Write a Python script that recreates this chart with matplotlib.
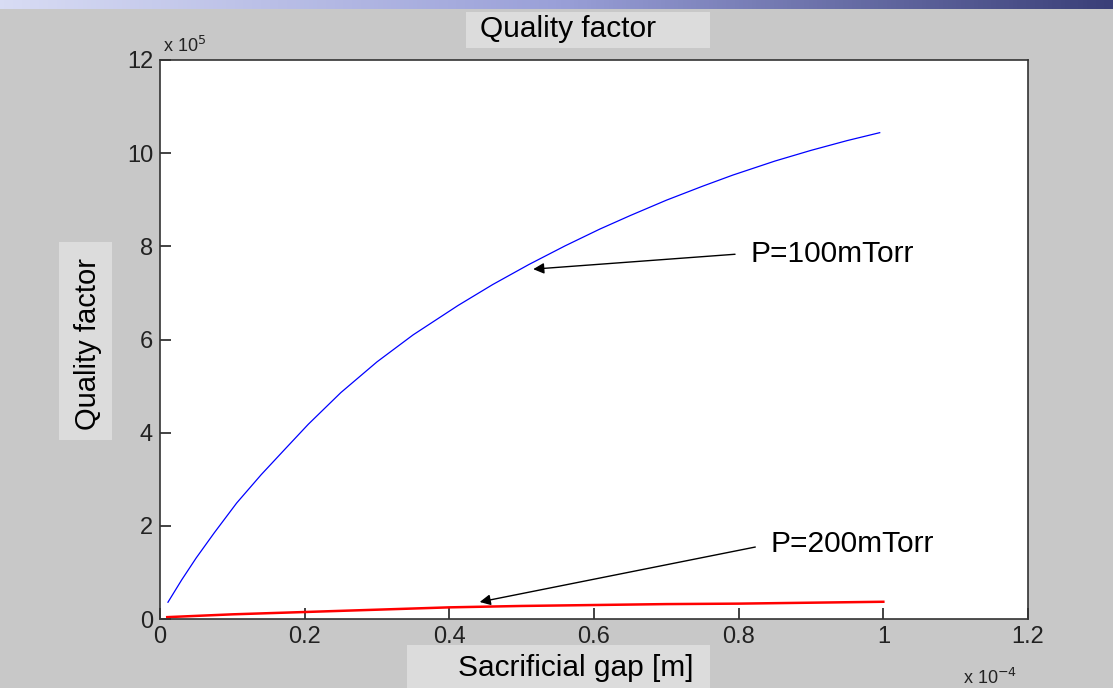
import numpy as np
import matplotlib.pyplot as plt
from matplotlib.ticker import FuncFormatter
from matplotlib.colors import LinearSegmentedColormap

# sacrificial gap [m] and quality factor
gap = np.array([0.011, 0.03, 0.05, 0.075, 0.106, 0.14, 0.173, 0.205, 0.25, 0.3,
                0.35, 0.412, 0.46, 0.51, 0.56, 0.608, 0.65, 0.7, 0.75, 0.792,
                0.85, 0.9, 0.95, 0.995]) * 1e-4
q_100 = np.array([0.36, 0.84, 1.31, 1.85, 2.49, 3.10, 3.65, 4.18, 4.86, 5.52,
                  6.10, 6.73, 7.18, 7.61, 8.01, 8.37, 8.66, 8.99, 9.29, 9.53,
                  9.83, 10.06, 10.27, 10.44]) * 1e5
gap_red = np.array([0.01, 0.1, 0.2, 0.3, 0.4, 0.5, 0.6, 0.7, 0.8, 0.9, 1.0]) * 1e-4
q_200 = np.array([0.04, 0.1, 0.15, 0.2, 0.25, 0.28, 0.3, 0.32, 0.33, 0.35, 0.37]) * 1e5

bg = '#c8c8c8'
plt.rcParams['font.family'] = ['Liberation Sans', 'DejaVu Sans']
fig = plt.figure(figsize=(11.13, 6.88), dpi=100, facecolor=bg)

# gradient strip along the top edge
strip = fig.add_axes([0, 1 - 9 / 688, 1, 9 / 688])
cmap = LinearSegmentedColormap.from_list('strip', ['#d8dcf4', '#9aa0d8', '#3a3f78'])
strip.imshow(np.linspace(0, 1, 256).reshape(1, -1), aspect='auto', cmap=cmap)
strip.axis('off')

ax = fig.add_axes([160 / 1113, 1 - 619 / 688, 868 / 1113, 559 / 688])
ax.set_facecolor('white')
ax.plot(gap, q_100, color='blue', lw=0.9)
ax.plot(gap_red, q_200, color='red', lw=1.8)

ax.set_xlim(0, 1.2e-4)
ax.set_ylim(0, 12e5)
ax.set_xticks(np.arange(0, 1.21e-4, 0.2e-4))
ax.set_yticks(np.arange(0, 12.1e5, 2e5))
ax.xaxis.set_major_formatter(FuncFormatter(lambda v, p: f'{v * 1e4:g}'))
ax.yaxis.set_major_formatter(FuncFormatter(lambda v, p: f'{v / 1e5:g}'))
ax.tick_params(direction='in', length=8, width=1.2, labelsize=17, colors='#222222', pad=5)
for s in ax.spines.values():
    s.set_color('#333333')
    s.set_linewidth(1.2)

# offset labels
fig.text(163 / 1113, 1 - 52 / 688, r'x 10$^5$', fontsize=13, color='#222222')
fig.text(963 / 1113, 1 - 684 / 688, r'x 10$^{-4}$', fontsize=13, color='#222222')

# title and axis labels in light boxes
for (x0, y0, w, h) in [(466, 12, 244, 36), (407, 645, 303, 43), (59, 242, 53, 198)]:
    fig.patches.append(plt.Rectangle((x0 / 1113, 1 - (y0 + h) / 688), w / 1113, h / 688,
                                     transform=fig.transFigure, facecolor='#dcdcdc',
                                     edgecolor='none', zorder=0))
fig.text(480 / 1113, 1 - 29 / 688, 'Quality factor', fontsize=21.5, va='center')
fig.text(458 / 1113, 1 - 668 / 688, 'Sacrificial gap [m]', fontsize=21.5, va='center')
fig.text(88 / 1113, 1 - 344 / 688, 'Quality factor', fontsize=21, rotation=90,
         ha='center', va='center')

# annotations with arrows
arrow = dict(arrowstyle='-|>', color='black', lw=1.0, mutation_scale=16,
             shrinkA=0, shrinkB=0)
ax.annotate('', xy=(0.516e-4, 7.51e5), xytext=(0.795e-4, 7.83e5), arrowprops=arrow)
ax.text(0.816e-4, 7.83e5, 'P=100mTorr', fontsize=21.5, va='center')
ax.annotate('', xy=(0.442e-4, 0.365e5), xytext=(0.823e-4, 1.545e5), arrowprops=arrow)
ax.text(0.844e-4, 1.6e5, 'P=200mTorr', fontsize=21.5, va='center')

fig.savefig('out.png', dpi=100, facecolor=bg)
